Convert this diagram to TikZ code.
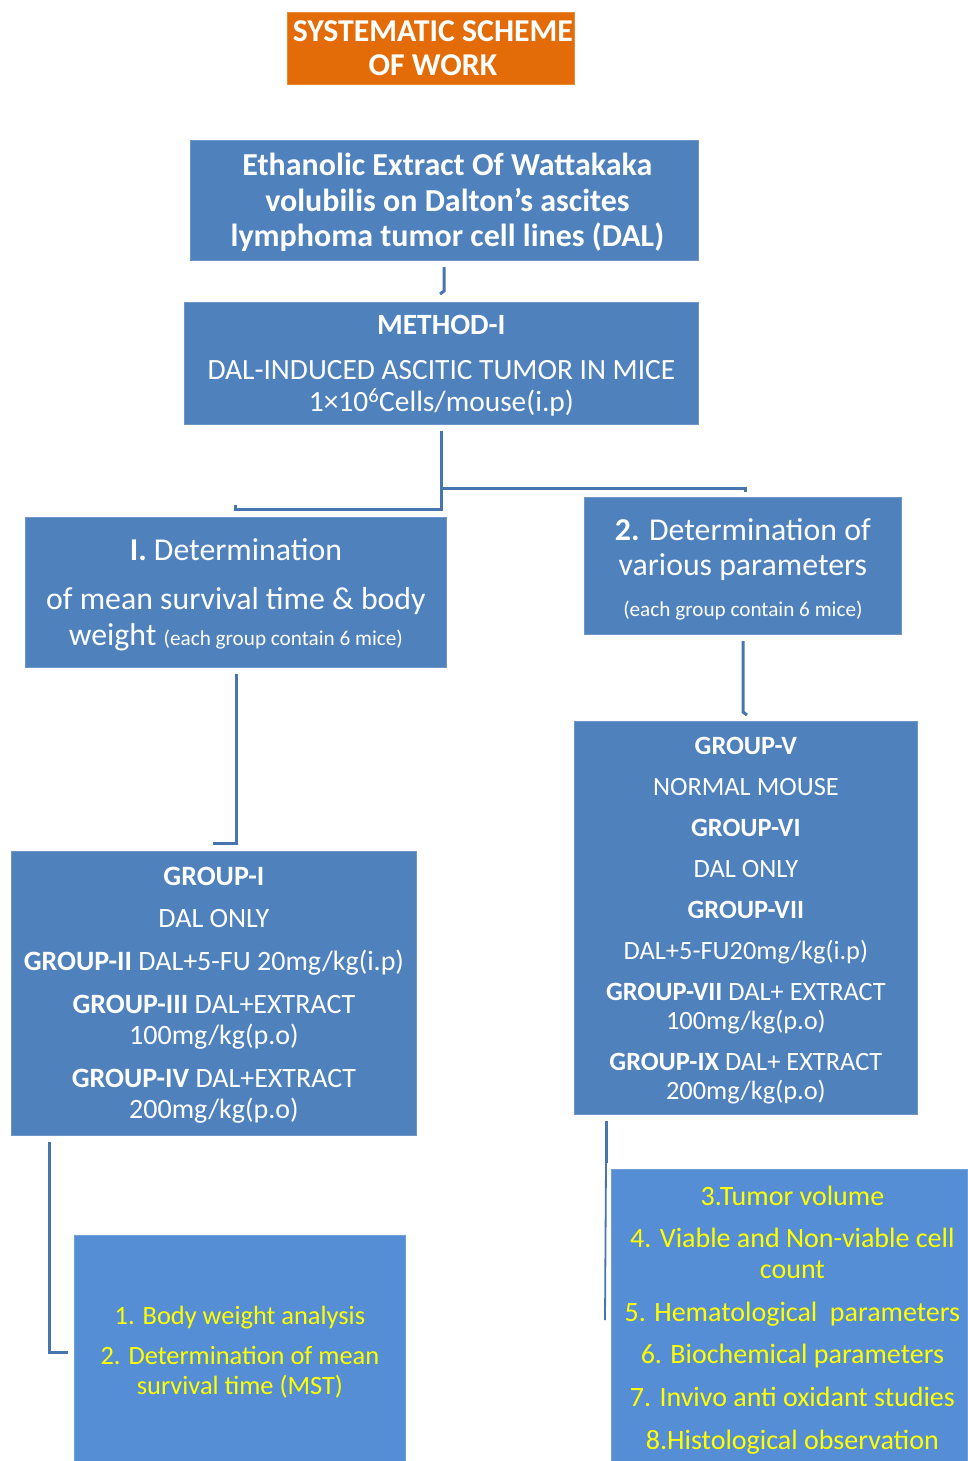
\documentclass[tikz,border=0pt]{standalone}
\usepackage{fontspec}
\setmainfont{Carlito}
\definecolor{boxblue}{HTML}{4F81BD}
\definecolor{boxedge}{HTML}{6F96C8}
\definecolor{lightblue}{HTML}{558ED5}
\definecolor{titleorange}{HTML}{E36C09}
\definecolor{connblue}{HTML}{4675B0}
\definecolor{txtyellow}{HTML}{FFFF00}
\begin{document}
\begin{tikzpicture}[x=1pt,y=-1pt,
  box/.style={draw=boxedge, line width=0.8pt, fill=boxblue, inner sep=0pt, anchor=north west},
  litebox/.style={box, fill=lightblue, draw=lightblue!85!white},
  titlebox/.style={box, fill=titleorange, draw=titleorange!80!white},
  boxtext/.style={align=center, inner sep=0pt, text=white},
  litetext/.style={boxtext, text=txtyellow},
  conn/.style={draw=connblue, line width=3pt}
]
\useasboundingbox (0,0) rectangle (967,1461);

% title
\node[titlebox, minimum width=287pt, minimum height=72pt] (T) at (287,12) {};
\node[boxtext, font=\bfseries\fontsize{31.8}{34}\selectfont] (Tt) at ([xshift=2pt]T.center)
  {SYSTEMATIC SCHEME\\OF WORK};

% A
\node[box, minimum width=508pt, minimum height=120pt] (A) at (190,140) {};
\node[boxtext, font=\bfseries\fontsize{32}{35.5}\selectfont] (At) at ([xshift=3pt,yshift=-2pt]A.center)
  {Ethanolic Extract Of Wattakaka\\volubilis on Dalton’s ascites\\lymphoma tumor cell lines (DAL)};

% B
\node[box, minimum width=514pt, minimum height=122pt] (B) at (184,302) {};
\node[boxtext, font=\fontsize{29.4}{32}\selectfont] (Bt) at ([yshift=-2pt]B.center)
  {\textbf{METHOD-I}\\[13pt]DAL-INDUCED ASCITIC TUMOR IN MICE\\1×10\textsuperscript{6}Cells/mouse(i.p)};

% C
\node[box, minimum width=421pt, minimum height=150pt] (C) at (25,517) {};
\node[boxtext, font=\fontsize{31.8}{36}\selectfont] (Ct) at ([yshift=-2pt]C.center)
  {\textbf{I.} Determination\\[13pt]of mean survival time \& body\\weight {\fontsize{21.2}{24}\selectfont(each group contain 6 mice)}};

% D
\node[box, minimum width=317pt, minimum height=137pt] (D) at (584,497) {};
\node[boxtext, font=\fontsize{31.8}{35}\selectfont] (Dt) at ([yshift=-3pt]D.center)
  {\textbf{2.} Determination of\\various parameters\\[6pt]{\fontsize{21.2}{24}\selectfont(each group contain 6 mice)}};

% E
\node[box, minimum width=405pt, minimum height=284pt] (E) at (11,851) {};
\node[boxtext, font=\fontsize{28}{31}\selectfont] (Et) at ([yshift=-2pt]E.center)
  {\textbf{GROUP-I}\\[11pt]DAL ONLY\\[12pt]\textbf{GROUP-II} DAL+5-FU 20mg/kg(i.p)\\[12pt]\textbf{GROUP-III} DAL+EXTRACT\\100mg/kg(p.o)\\[12pt]\textbf{GROUP-IV} DAL+EXTRACT\\200mg/kg(p.o)};

% F
\node[box, minimum width=343pt, minimum height=393pt] (F) at (574,721) {};
\node[boxtext, font=\fontsize{26.4}{29}\selectfont] (Ft) at ([yshift=-3pt]F.center)
  {\textbf{GROUP-V}\\[12pt]NORMAL MOUSE\\[12pt]\textbf{GROUP-VI}\\[12pt]DAL ONLY\\[12pt]\textbf{GROUP-VII}\\[12pt]DAL+5-FU20mg/kg(i.p)\\[12pt]\textbf{GROUP-VII} DAL+ EXTRACT\\100mg/kg(p.o)\\[12pt]\textbf{GROUP-IX} DAL+ EXTRACT\\200mg/kg(p.o)};

% G
\node[litebox, minimum width=331pt, minimum height=226pt] (G) at (74,1235) {};
\node[litetext, font=\fontsize{26.4}{30}\selectfont] (Gt) at ([yshift=-4pt]G.center)
  {1. Body weight analysis\\[10pt]2. Determination of mean\\survival time (MST)};

% H
\node[litebox, minimum width=356pt, minimum height=292pt] (H) at (611,1169) {};
\node[litetext, font=\fontsize{28}{31}\selectfont] (Ht) at ([xshift=3pt,yshift=-5pt]H.center)
  {3.Tumor volume\\[11pt]4. Viable and Non-viable cell\\count\\[12pt]5. Hematological\ \ parameters\\[11pt]6. Biochemical parameters\\[12pt]7. Invivo anti oxidant studies\\[12pt]8.Histological observation};

% connectors
\coordinate (ab1) at (444,267);
\coordinate (ab2) at (444,291);
\coordinate (ab3) at (440,294);
\draw[conn] (ab1) -- (ab2) -- (ab3);

\coordinate (b0) at (441,431);
\coordinate (b1) at (441,509);
\coordinate (bl) at (235,509);
\coordinate (blt) at (235,505);
\draw[conn] (b0) -- (b1) -- (bl) -- (blt);
\coordinate (br0) at (441,488);
\coordinate (br1) at (745,488);
\coordinate (brt) at (745,492);
\draw[conn] (br0) -- (br1) -- (brt);

\coordinate (c0) at (236,674);
\coordinate (c1) at (236,843);
\coordinate (c2) at (213,843);
\draw[conn] (c0) -- (c1) -- (c2);

\coordinate (d0) at (743,641);
\coordinate (d1) at (743,712);
\coordinate (d2) at (747,715);
\draw[conn] (d0) -- (d1) -- (d2);

\coordinate (e0) at (49,1142);
\coordinate (e1) at (49,1352);
\coordinate (e2) at (68,1352);
\draw[conn] (e0) -- (e1) -- (e2);

\coordinate (f0) at (606,1121);
\coordinate (f1) at (606,1163);
\coordinate (f2) at (605,1320);
\draw[conn] (f0) -- (f1);
\draw[draw=connblue, line width=1.8pt] (f1) -- (f2);
\end{tikzpicture}
\end{document}
